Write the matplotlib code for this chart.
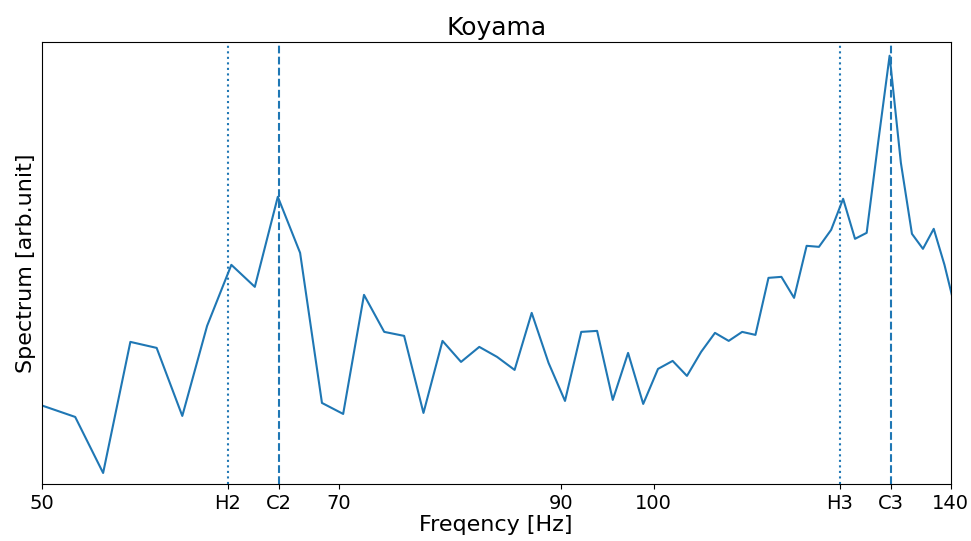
import matplotlib
matplotlib.use("Agg")
import matplotlib.pyplot as plt
from matplotlib.ticker import NullLocator, FixedLocator, FixedFormatter

# frequency bins [Hz]
freq = [48.58, 50.25, 51.93, 53.60, 55.28, 56.95, 58.63, 60.30, 61.98, 63.65,
        65.33, 67.00, 68.68, 70.35, 72.03, 73.70, 75.38, 77.05, 78.73, 80.40,
        82.08, 83.75, 85.43, 87.10, 88.78, 90.45, 92.13, 93.80, 95.48, 97.15,
        98.83, 100.50, 102.18, 103.85, 105.53, 107.20, 108.88, 110.55, 112.23,
        113.90, 115.58, 117.25, 118.93, 120.60, 122.28, 123.95, 125.63, 127.30,
        128.98, 130.65, 132.33, 134.00, 135.68, 137.35, 139.03, 140.70]
# spectrum [arb. unit]
spec = [87, 77, 67, 11, 142, 136, 68, 158, 219, 197,
        287, 231, 81, 70, 189, 152, 148, 71, 143, 122,
        137, 127, 114, 171, 121, 83, 152, 153, 84, 131,
        80, 115, 123, 108, 132, 151, 143, 152, 149,
        206, 207, 186, 238, 237, 254, 285, 245, 251,
        342, 428, 321, 250, 235, 255, 219, 176]

dotted_notes = [61.74, 123.47]   # H2, H3
dashed_notes = [65.41, 130.81]   # C2, C3

tick_vals = [50, 61.74, 65.41, 70, 90, 100, 123.47, 130.81, 140]
tick_labels = ["50", "H2", "C2", "70", "90", "100", "H3", "C3", "140"]

fig = plt.figure(figsize=(9.71, 5.41), dpi=100)
ax = fig.add_axes([0.043, 0.1054, 0.936, 0.8175])

ax.plot(freq, spec, color="#1f77b4", lw=1.5)
for f in dotted_notes:
    ax.axvline(f, color="#1f77b4", ls=":", lw=1.5)
for f in dashed_notes:
    ax.axvline(f, color="#1f77b4", ls="--", lw=1.5)

ax.set_xscale("log")
ax.set_xlim(50, 140)
ax.set_ylim(0, 442)
ax.xaxis.set_major_locator(FixedLocator(tick_vals))
ax.xaxis.set_major_formatter(FixedFormatter(tick_labels))
ax.xaxis.set_minor_locator(NullLocator())
ax.set_yticks([])
ax.tick_params(axis="x", labelsize=14)

ax.set_xlabel("Freqency [Hz]", fontsize=16, labelpad=2)
ax.set_ylabel("Spectrum [arb.unit]", fontsize=16, labelpad=4)
ax.set_title("Koyama", fontsize=18, pad=5)

fig.savefig("out.png", dpi=100)
